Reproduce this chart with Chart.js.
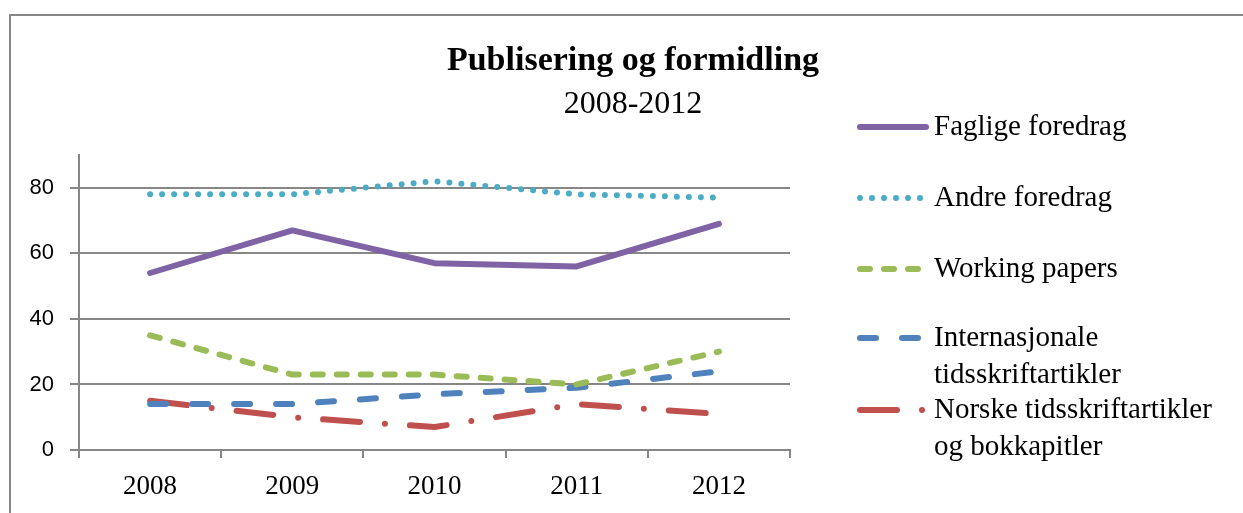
<!DOCTYPE html>
<html>
<head>
<meta charset="utf-8">
<script src="https://cdn.jsdelivr.net/npm/chart.js@4.4.1/dist/chart.umd.min.js"></script>
<style>
  html, body { margin: 0; padding: 0; background: #fff; }
  #wrap { position: relative; width: 1243px; height: 513px; overflow: hidden; }
  #frame { position: absolute; left: 9px; top: 14px; width: 1300px; height: 600px; border: 2px solid #878787; box-sizing: border-box; }
  canvas { position: absolute; left: 0; top: 0; }
</style>
</head>
<body>
<div id="wrap">
  <div id="frame"></div>
  <canvas id="c" width="1243" height="513"></canvas>
</div>
<script>
const titleText = 'Publisering og formidling';
const subtitleText = '2008-2012';
const years = ['2008', '2009', '2010', '2011', '2012'];
const yTicks = [0, 20, 40, 60, 80];

const seriesNames = ['Faglige foredrag', 'Andre foredrag', 'Working papers', 'Internasjonale tidsskriftartikler', 'Norske tidsskriftartikler og bokkapitler'];
const legendLines = [
  ['Faglige foredrag'],
  ['Andre foredrag'],
  ['Working papers'],
  ['Internasjonale', 'tidsskriftartikler'],
  ['Norske tidsskriftartikler', 'og bokkapitler']
];

const faglige = [54, 67, 57, 56, 69];
const andre = [78, 78, 82, 78, 77];
const working = [35, 23, 23, 20, 30];
const internasjonale = [14, 14, 17, 19, 24];
const norske = [15, 10, 7, 14, 11];

const serif = '"Liberation Serif", "Times New Roman", serif';
const sans = '"Liberation Sans", Arial, sans-serif';

const styles = [
  { color: '#7F63A5', dash: [] },
  { color: '#4BACC6', dash: [0, 12] },
  { color: '#9BBB59', dash: [10, 14] },
  { color: '#4F81BD', dash: [16, 26] },
  { color: '#C0504D', dash: [37, 25, 0, 25] }
];
const seriesData = [faglige, andre, working, internasjonale, norske];

const datasets = seriesData.map((d, i) => ({
  label: seriesNames[i],
  data: d,
  borderColor: styles[i].color,
  backgroundColor: styles[i].color,
  borderWidth: 6,
  borderDash: styles[i].dash,
  borderCapStyle: 'round',
  borderJoinStyle: 'round',
  pointRadius: 0,
  tension: 0,
  fill: false
}));

const titlePlugin = {
  id: 'titles',
  afterDraw(chart) {
    const ctx = chart.ctx;
    ctx.save();
    ctx.fillStyle = '#000';
    ctx.textAlign = 'center';
    ctx.textBaseline = 'alphabetic';
    ctx.font = 'bold 34px ' + serif;
    ctx.fillText(titleText, 633, 70);
    ctx.font = '32px ' + serif;
    ctx.fillText(subtitleText, 633, 113);
    ctx.restore();
  }
};

const legendPlugin = {
  id: 'sideLegend',
  afterDraw(chart) {
    const ctx = chart.ctx;
    const rowY = [127, 198, 269, 338, 410];
    const lineH = 37;
    ctx.save();
    chart.data.datasets.forEach((ds, i) => {
      const y = rowY[i];
      ctx.beginPath();
      ctx.strokeStyle = ds.borderColor;
      ctx.lineWidth = ds.borderWidth;
      ctx.lineCap = 'round';
      ctx.setLineDash(ds.borderDash);
      ctx.moveTo(860, y);
      ctx.lineTo(926, y);
      ctx.stroke();
      ctx.setLineDash([]);
      ctx.fillStyle = '#000';
      ctx.font = '29px ' + serif;
      ctx.textAlign = 'left';
      ctx.textBaseline = 'middle';
      legendLines[i].forEach((t, k) => ctx.fillText(t, 934, y + k * lineH));
    });
    ctx.restore();
  }
};

new Chart(document.getElementById('c'), {
  type: 'line',
  data: { labels: years, datasets },
  options: {
    responsive: false,
    animation: false,
    layout: { padding: { top: 155, right: 453, left: 0, bottom: 0 } },
    plugins: { legend: { display: false }, title: { display: false }, tooltip: { enabled: false } },
    scales: {
      x: {
        offset: true,
        grid: { display: true, drawOnChartArea: false, drawTicks: true, tickLength: 8, color: '#878787', lineWidth: 2, offset: true },
        border: { display: true, color: '#878787', width: 2 },
        ticks: { color: '#000', font: { family: serif, size: 27 }, padding: 13, maxRotation: 0 },
        afterFit(scale) { scale.height = 63; }
      },
      y: {
        min: 0,
        max: 90,
        afterBuildTicks(scale) { scale.ticks = yTicks.map(v => ({ value: v })); },
        grid: { color: '#878787', lineWidth: 2, drawTicks: true, tickLength: 9 },
        border: { display: true, color: '#878787', width: 2 },
        ticks: { color: '#000', font: { family: sans, size: 22 }, padding: 16 },
        afterFit(scale) { scale.width = 79; }
      }
    }
  },
  plugins: [titlePlugin, legendPlugin]
});
</script>
</body>
</html>
